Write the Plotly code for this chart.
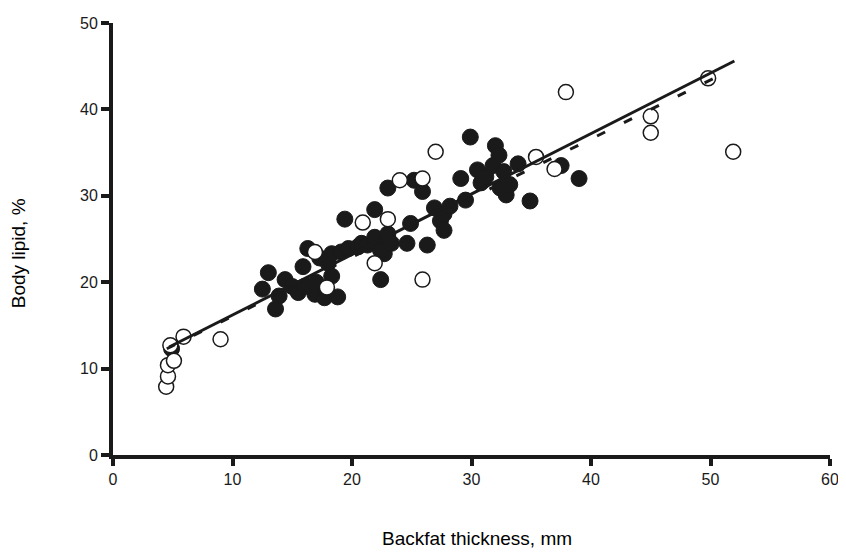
import plotly.graph_objects as go

# Filled circles (backfat mm, body lipid %)
filled_x = [4.9, 12.5, 13.0, 13.6, 13.9, 14.4, 15.0, 15.5, 15.9, 16.3, 16.9, 17.7, 18.0, 18.3,
            18.8, 18.3, 19.1, 19.4, 19.7, 20.5, 20.8, 21.3, 21.9, 21.9, 22.4, 22.4, 22.7, 22.4,
            21.9, 23.0, 23.3, 23.0, 24.6, 24.9, 25.2, 25.9, 26.3, 26.9, 27.4, 27.7, 27.7, 28.2,
            29.1, 29.5, 29.9, 30.5, 30.8, 31.2, 31.8, 32.0, 32.3, 32.4, 32.7, 32.9, 33.2, 33.9,
            34.9, 37.5, 39.0, 17.3, 16.0, 17.0]
filled_y = [12.3, 19.2, 21.1, 16.9, 18.4, 20.3, 19.5, 18.8, 21.8, 23.9, 18.6, 18.2, 22.2, 20.7,
            18.3, 23.3, 23.5, 27.3, 23.9, 24.1, 24.5, 24.3, 24.7, 28.4, 20.3, 23.7, 23.3, 23.7,
            25.2, 25.6, 24.5, 30.9, 24.5, 26.8, 31.8, 30.5, 24.3, 28.6, 27.1, 26.0, 27.9, 28.8,
            32.0, 29.5, 36.8, 33.0, 31.5, 32.2, 33.5, 35.8, 34.7, 30.9, 32.8, 30.1, 31.3, 33.7,
            29.4, 33.5, 32.0, 22.8, 19.5, 20.0]

# Open circles
open_x = [4.45, 4.6, 4.6, 5.1, 4.8, 5.9, 9.0, 16.9, 17.9, 20.9, 21.9, 23.0, 24.0, 25.9, 25.9,
          27.0, 35.4, 36.95, 37.9, 45.0, 45.0, 49.8, 51.9]
open_y = [7.9, 9.1, 10.4, 10.9, 12.7, 13.7, 13.4, 23.5, 19.4, 26.9, 22.2, 27.3, 31.8, 32.0, 20.3,
          35.1, 34.5, 33.1, 42.0, 39.2, 37.3, 43.6, 35.1]

# Regression lines (end points)
solid_x = [4.7, 52.0]
solid_y = [12.5, 45.6]
dash_x = [4.5, 51.0]
dash_y = [12.3, 44.1]

x_ticks = [0, 10, 20, 30, 40, 50, 60]
y_ticks = [0, 10, 20, 30, 40, 50]

INK = "#1a1a1a"

fig = go.Figure()
fig.add_trace(go.Scatter(x=filled_x, y=filled_y, mode="markers",
                         marker=dict(symbol="circle", size=16, color=INK,
                                     line=dict(color=INK, width=1)),
                         showlegend=False, cliponaxis=False))
fig.add_trace(go.Scatter(x=open_x, y=open_y, mode="markers",
                         marker=dict(symbol="circle", size=15, color="white",
                                     line=dict(color=INK, width=1.5)),
                         showlegend=False, cliponaxis=False))
fig.add_trace(go.Scatter(x=dash_x, y=dash_y, mode="lines",
                         line=dict(color=INK, width=3, dash="9px,21px"),
                         showlegend=False))
fig.add_trace(go.Scatter(x=solid_x, y=solid_y, mode="lines",
                         line=dict(color=INK, width=3), showlegend=False))

tickfont = dict(family="Liberation Sans, Arial, sans-serif", size=16, color=INK)

fig.update_xaxes(range=[0, 60], tickvals=x_ticks, ticktext=[str(v) for v in x_ticks],
                 showgrid=False, zeroline=False, showline=True, linecolor=INK, linewidth=4,
                 ticks="outside", ticklen=7, tickwidth=4, tickcolor=INK, tickfont=tickfont,
                 ticklabeloverflow="allow")
fig.update_yaxes(range=[0, 50], tickvals=y_ticks, ticktext=[str(v) for v in y_ticks],
                 showgrid=False, zeroline=False, showline=True, linecolor=INK, linewidth=4,
                 ticks="outside", ticklen=8, tickwidth=4, tickcolor=INK, tickfont=tickfont,
                 ticklabeloverflow="allow")

title_font = dict(family="Liberation Sans, Arial, sans-serif", size=19, color="black")
fig.add_annotation(text="Body lipid, %", xref="paper", yref="paper",
                   x=-0.1314, y=0.4665, xanchor="center", yanchor="middle",
                   textangle=-90, showarrow=False, font=title_font)
fig.add_annotation(text="Backfat thickness, mm", xref="paper", yref="paper",
                   x=0.5076, y=-0.194, xanchor="center", yanchor="middle",
                   showarrow=False, font=title_font)

# page body has an 8px margin, so the figure is 8px smaller and margins shifted
fig.update_layout(width=838, height=546, plot_bgcolor="white", paper_bgcolor="white",
                  margin=dict(l=105, r=10, t=7, b=98.5), showlegend=False)

fig.write_html("out.html")
